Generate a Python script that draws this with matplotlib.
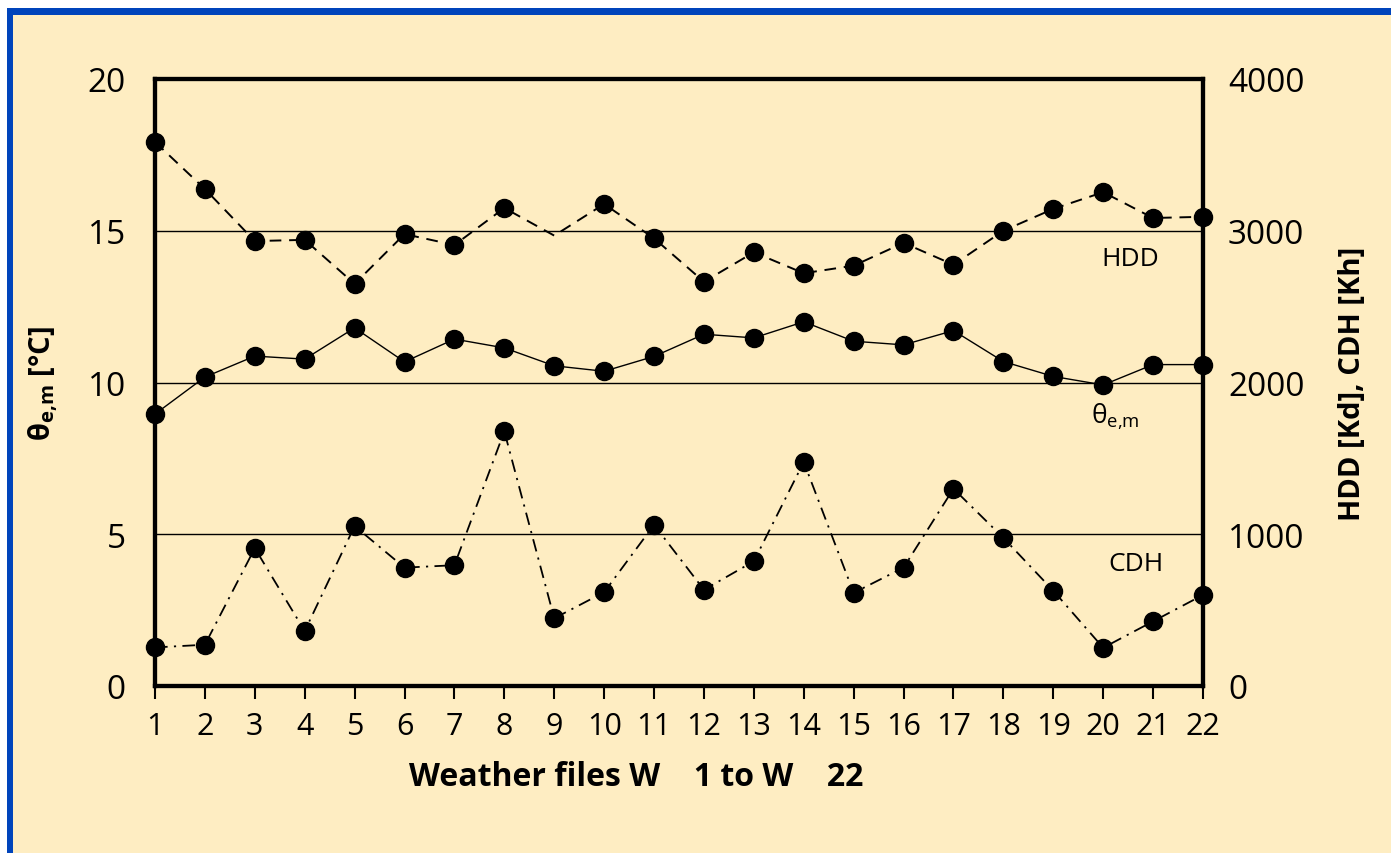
import matplotlib

matplotlib.use("Agg")

import matplotlib.pyplot as plt
from matplotlib.patches import Rectangle

# weather file numbers W1..W22
FILES = list(range(1, 23))

# mean outdoor temperature [°C] (left axis)
THETA_EM = [8.96, 10.18, 10.87, 10.77, 11.80, 10.68, 11.43, 11.14, 10.55, 10.37, 10.86,
            11.59, 11.47, 12.00, 11.36, 11.24, 11.71, 10.69, 10.20, 9.92, 10.59, 10.59]

# heating degree days [Kd] (right axis)
HDD = [3585, 3275, 2932, 2940, 2650, 2978, 2906, 3150, 2968, 3176, 2950,
       2664, 2858, 2720, 2770, 2920, 2776, 3000, 3144, 3254, 3084, 3092]

# cooling degree hours [Kh] (right axis)
CDH = [254, 272, 908, 362, 1054, 780, 796, 1678, 446, 618, 1062,
       634, 822, 1476, 614, 780, 1300, 976, 628, 252, 426, 600]

BG = "#FEEDC2"
BLUE = "#0044BB"


def main() -> None:
    plt.rcParams["font.family"] = ["Open Sans", "DejaVu Sans"]
    plt.rcParams["mathtext.fontset"] = "custom"
    plt.rcParams["mathtext.rm"] = "Open Sans"
    plt.rcParams["mathtext.bf"] = "Open Sans:bold"
    plt.rcParams["axes.unicode_minus"] = False

    fig = plt.figure(figsize=(13.91, 8.54), dpi=100)
    fig.patch.set_facecolor("white")

    # yellow panel with blue border on top and left
    fig.patches.append(Rectangle((7 / 1391, 0), 1 - 7 / 1391, 1 - 9 / 854,
                                 transform=fig.transFigure, facecolor=BG,
                                 edgecolor="none", zorder=-10))
    fig.patches.append(Rectangle((7 / 1391, 0), 6 / 1391, 1 - 9 / 854,
                                 transform=fig.transFigure, facecolor=BLUE,
                                 edgecolor="none", zorder=-9))
    fig.patches.append(Rectangle((7 / 1391, 1 - 16 / 854), 1 - 7 / 1391, 7 / 854,
                                 transform=fig.transFigure, facecolor=BLUE,
                                 edgecolor="none", zorder=-9))

    ax = fig.add_axes([155 / 1391, 1 - 687 / 854, (1203 - 155) / 1391, (687 - 80) / 854])
    ax.set_facecolor("none")
    ax2 = ax.twinx()

    ax.set_xlim(1, 22)
    ax.set_ylim(0, 20)
    ax2.set_ylim(0, 4000)

    for y in (5, 10, 15):
        ax.axhline(y, color="black", lw=1.0, zorder=1)

    ax.plot(FILES, THETA_EM, color="black", lw=1.0, marker="o", ms=13,
            clip_on=False, zorder=3)
    hdd_marks = [i for i in range(len(FILES)) if i != 8]
    ax2.plot(FILES, HDD, color="black", lw=1.4, dashes=(6, 4), marker="o", ms=13,
             markevery=hdd_marks, clip_on=False, zorder=3)
    ax2.plot(FILES, CDH, color="black", lw=1.3, dashes=(7, 3.5, 1.2, 3.5), marker="o",
             ms=13, clip_on=False, zorder=3)

    for a in (ax, ax2):
        for side in ("left", "right", "top", "bottom"):
            a.spines[side].set_linewidth(3)

    ax.set_xticks(FILES)
    ax.tick_params(axis="x", direction="out", length=9, width=1.5, pad=9, labelsize=22)
    ax.set_yticks([0, 5, 10, 15, 20])
    ax.set_yticks([0, 20], minor=True)
    ax.tick_params(axis="y", which="major", length=0, pad=21, labelsize=24)
    ax.tick_params(axis="y", which="minor", length=9, width=1.5, direction="out")
    ax2.set_yticks([0, 1000, 2000, 3000, 4000])
    ax2.set_yticks([0, 4000], minor=True)
    ax2.tick_params(axis="y", which="major", length=0, pad=18, labelsize=24)
    ax2.tick_params(axis="y", which="minor", length=9, width=1.5, direction="out")

    ax.set_ylabel(r"θ$_{\mathbf{e{,}m}}$ [°C]", fontsize=21, fontweight="bold", labelpad=20)
    ax2.set_ylabel("HDD [Kd], CDH [Kh]", fontsize=21, fontweight="bold", labelpad=24)
    ax.set_xlabel("Weather files W    1 to W    22", fontsize=23, fontweight="bold",
                  labelpad=14)
    ax.xaxis.label.set_x(0.459)

    ax.text(20.54, 14.07, "HDD", fontsize=19, ha="center", va="center")
    ax.text(20.24, 8.9, r"θ$_{\mathrm{e{,}m}}$", fontsize=19, ha="center", va="center")
    ax.text(20.66, 4.05, "CDH", fontsize=19, ha="center", va="center")

    fig.savefig("out.png", dpi=100, facecolor=fig.get_facecolor())
    plt.close(fig)


if __name__ == "__main__":
    main()
